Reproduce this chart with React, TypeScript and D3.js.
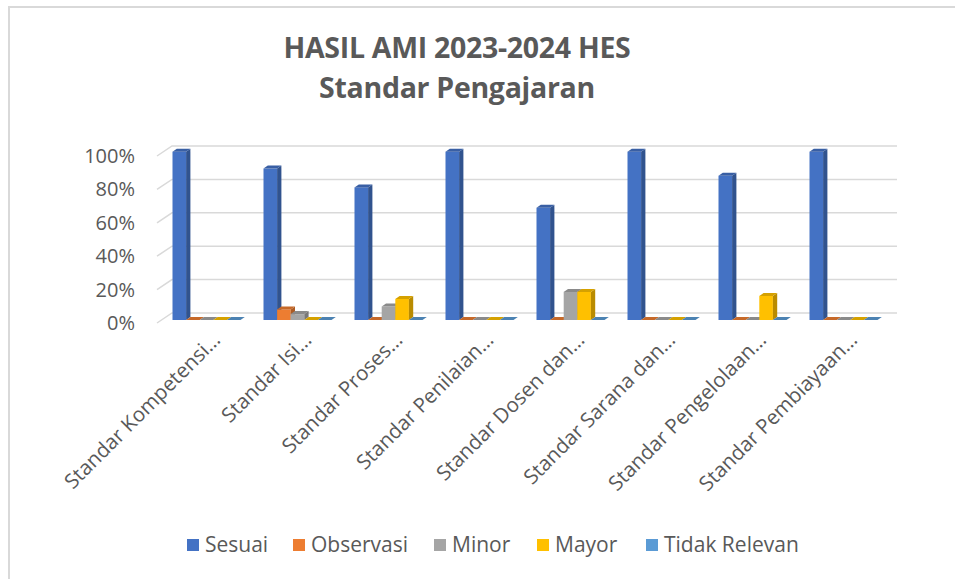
import React from "react";
import * as d3 from "d3";

const categories = [
  "Standar Kompetensi…",
  "Standar Isi…",
  "Standar Proses…",
  "Standar Penilaian…",
  "Standar Dosen dan…",
  "Standar Sarana dan…",
  "Standar Pengelolaan…",
  "Standar Pembiayaan…",
];
const seriesNames = ["Sesuai", "Observasi", "Minor", "Mayor", "Tidak Relevan"];
const sesuai = [1.0, 0.9, 0.788, 1.0, 0.667, 1.0, 0.857, 1.0];
const observasi = [0, 0.063, 0, 0, 0, 0, 0, 0];
const minor = [0, 0.035, 0.08, 0, 0.167, 0, 0, 0];
const mayor = [0, 0, 0.125, 0, 0.167, 0, 0.143, 0];
const tidakRelevan = [0, 0, 0, 0, 0, 0, 0, 0];
const yTicks = [0, 0.2, 0.4, 0.6, 0.8, 1.0];
const colors = ["#4472C4", "#ED7D31", "#A5A5A5", "#FFC000", "#5B9BD5"];

const seriesValues = [sesuai, observasi, minor, mayor, tidakRelevan];
const FONT = "'Open Sans', Lato, sans-serif";
const TXT = "#595959";

export default function App() {
  const W = 955;
  const H = 579;
  // bar plane (front faces)
  const x0 = d3.scaleBand<string>().domain(categories).range([161, 889]);
  const x1 = d3
    .scaleBand<string>()
    .domain(seriesNames)
    .range([11.5, x0.bandwidth() - 11.5]);
  const yFront = d3.scaleLinear().domain([0, 1]).range([320, 151.7]);
  const yBack = d3.scaleLinear().domain([0, 1]).range([313, 146]);
  const yLabel = d3.scaleLinear().domain([0, 1]).range([323, 156]);
  const fmt = d3.format(".0%");
  const dx = 4.3;
  const dy = -3;
  const backLeft = 172;
  const backRight = 897;
  const frontLeft = 157;

  const bars: React.ReactNode[] = [];
  categories.forEach((c, ci) => {
    seriesNames.forEach((s, si) => {
      const v = seriesValues[si][ci];
      const x = (x0(c) as number) + (x1(s) as number);
      const w = x1.bandwidth();
      const yt = yFront(v);
      const yb = yFront(0);
      const col = d3.color(colors[si])!;
      const side = col.darker(0.9).formatHex();
      const top = col.darker(0.5).formatHex();
      bars.push(
        <g key={`${ci}-${si}`}>
          {v > 0 && <rect x={x} y={yt} width={w} height={yb - yt} fill={colors[si]} />}
          {v > 0 && (
            <polygon
              points={`${x + w},${yt} ${x + w + dx},${yt + dy} ${x + w + dx},${yb + dy} ${x + w},${yb}`}
              fill={side}
            />
          )}
          <polygon
            points={`${x},${yt} ${x + dx},${yt + dy} ${x + w + dx},${yt + dy} ${x + w},${yt}`}
            fill={top}
          />
        </g>
      );
    });
  });

  const legendX = [187, 293, 434, 537, 646];

  return (
    <svg
      width={W}
      height={H}
      style={{ position: "absolute", left: 0, top: 0, display: "block", background: "#fff" }}
      fontFamily={FONT}
    >
      <rect x={9} y={7} width={W + 10} height={H + 10} fill="#fff" stroke="#d9d9d9" strokeWidth={2} />

      <text x={457} y={58} textAnchor="middle" fontSize={28.5} fontWeight="bold" fill={TXT} letterSpacing={-0.3}>
        HASIL AMI 2023-2024 HES
      </text>
      <text x={457} y={98} textAnchor="middle" fontSize={28.5} fontWeight="bold" fill={TXT} letterSpacing={-0.3}>
        Standar Pengajaran
      </text>

      {yTicks.map((t) => (
        <g key={t}>
          <polyline
            points={`${frontLeft},${yLabel(t)} ${backLeft},${yBack(t)} ${backRight},${yBack(t)}`}
            fill="none"
            stroke="#d9d9d9"
            strokeWidth={1.5}
          />
          <text x={135} y={yLabel(t)} dy="0.35em" textAnchor="end" fontSize={20} fill={TXT}>
            {fmt(t)}
          </text>
        </g>
      ))}

      {bars}

      {categories.map((c) => {
        const cx = (x0(c) as number) + x0.bandwidth() / 2;
        return (
          <text
            key={c}
            transform={`translate(${cx + 5},${331}) rotate(-45)`}
            textAnchor="end"
            dy="0.7em"
            fontSize={20.5}
            fill={TXT}
          >
            {c}
          </text>
        );
      })}

      {seriesNames.map((s, i) => (
        <g key={s}>
          <rect x={legendX[i]} y={539} width={12} height={12} fill={colors[i]} />
          <text x={legendX[i] + 18} y={545} dy="0.35em" fontSize={21} fill={TXT}>
            {s}
          </text>
        </g>
      ))}
    </svg>
  );
}
